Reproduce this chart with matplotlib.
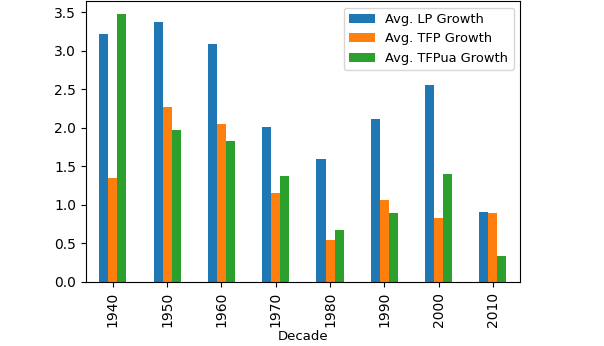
import matplotlib
matplotlib.use("Agg")
import matplotlib.pyplot as plt
import numpy as np

decades = ["1940", "1950", "1960", "1970", "1980", "1990", "2000", "2010"]
lp_growth = [3.22, 3.37, 3.09, 2.01, 1.60, 2.12, 2.55, 0.91]
tfp_growth = [1.345, 2.27, 2.05, 1.15, 0.55, 1.06, 0.83, 0.89]
tfpua_growth = [3.47, 1.97, 1.83, 1.38, 0.68, 0.89, 1.40, 0.34]

series = [
    ("Avg. LP Growth", lp_growth, "#1f77b4"),
    ("Avg. TFP Growth", tfp_growth, "#ff7f0e"),
    ("Avg. TFPua Growth", tfpua_growth, "#2ca02c"),
]

fig = plt.figure(figsize=(6.04, 3.46), dpi=100)
ax = fig.add_axes([0.142, 0.185, 0.719, 0.812])

x = np.arange(len(decades))
width = 0.5 / len(series)
for i, (name, vals, color) in enumerate(series):
    ax.bar(x + (i - 1) * width, vals, width, color=color, label=name)

ax.set_xticks(x)
ax.set_xticklabels(decades, rotation=90)
ax.set_xlim(-0.5, len(decades) - 0.5)
ax.set_xlabel("Decade", fontsize=9.5, labelpad=2)
ax.legend(loc="upper right", fontsize=9.4)

fig.savefig("out.png", dpi=100)
